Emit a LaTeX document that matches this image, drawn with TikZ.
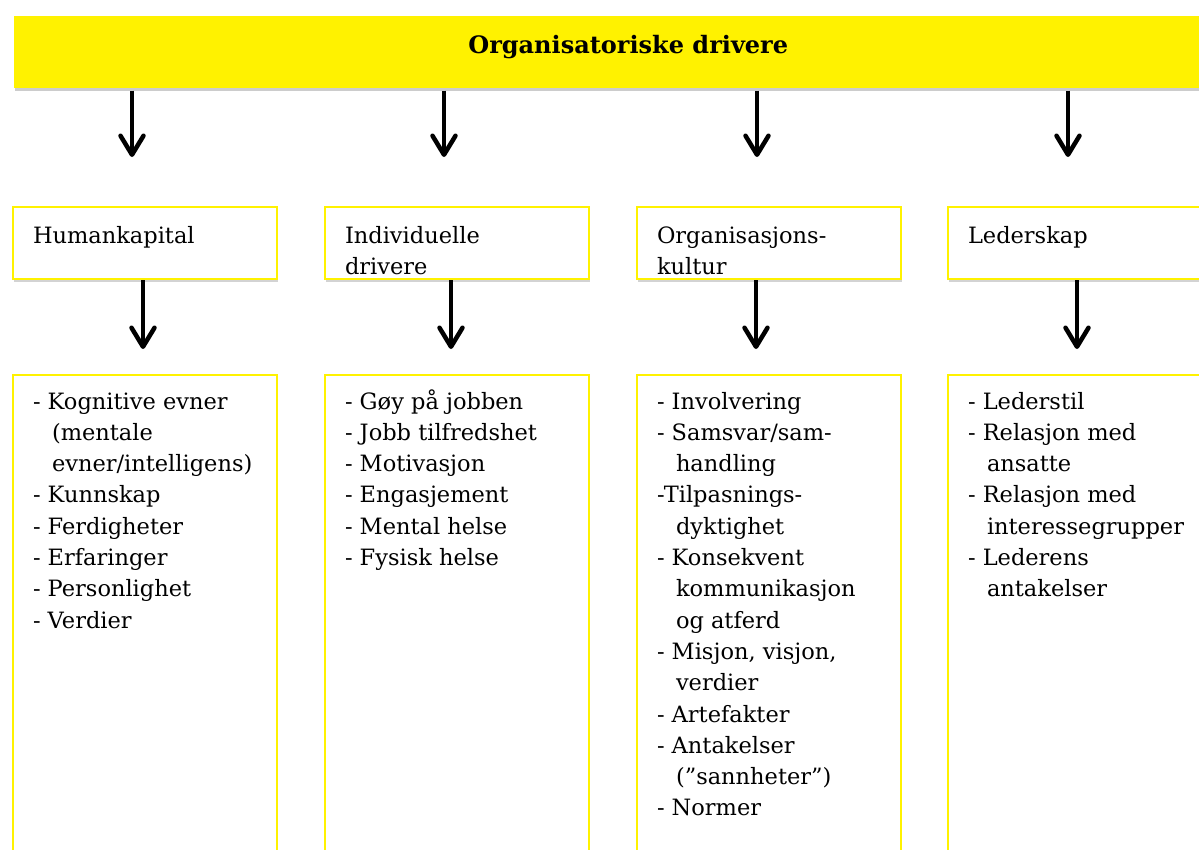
\documentclass[tikz,border=0pt]{standalone}
\usepackage{fontspec}
\setmainfont{DejaVu Serif}
\usetikzlibrary{arrows.meta,shadows}

% text block inside a box: height, hanging indent, text
\newcommand{\felt}[3]{%
  \begin{minipage}[t][#1][t]{224pt}\parskip=0pt\parindent=0pt
  \def\pkt{\par\hangindent=#2\hangafter=1\relax}%
  \rule{0pt}{24pt}\hangindent=#2\hangafter=1\relax #3\end{minipage}}

\begin{document}
\begin{tikzpicture}[x=1pt,y=-1pt,->,>={Straight Barb[length=19pt,width=23pt,round]},
                    line width=4.5pt]

  \tikzstyle{topp}=[rectangle,fill=yellow,anchor=north west,minimum width=1228pt,
                    minimum height=72pt,font=\fontsize{24}{28}\selectfont\bfseries,
                    text height=12pt,text depth=10pt,
                    drop shadow={opacity=0.4,shadow xshift=1pt,shadow yshift=-3pt}]
  \tikzstyle{driver}=[rectangle,draw=yellow,fill=white,line width=2pt,anchor=north west,
                      inner xsep=20pt,inner ysep=12pt,font=\fontsize{22.5}{31.3}\selectfont,
                      drop shadow={opacity=0.35,shadow xshift=1pt,shadow yshift=-3pt}]
  \tikzstyle{liste}=[driver,inner ysep=10pt]

  \useasboundingbox (0,0) rectangle (1199,849);
  \clip (0,0) rectangle (1199,849);

  \node[topp] (TOP) at (12,14) {Organisatoriske drivere};

  \node[driver] (HK) at (12,206)  {\felt{48pt}{0pt}{Humankapital}};
  \node[driver] (ID) at (324,206) {\felt{48pt}{0pt}{Individuelle\\drivere}};
  \node[driver] (OK) at (636,206) {\felt{48pt}{0pt}{Organisasjons-\\kultur}};
  \node[driver] (LS) at (947,206) {\felt{48pt}{0pt}{Lederskap}};

  \node[liste] (HKL) at (12,374) {\felt{500pt}{19pt}{- Kognitive evner\\(mentale\\evner/intelligens)
    \pkt - Kunnskap\pkt - Ferdigheter\pkt - Erfaringer\pkt - Personlighet\pkt - Verdier}};
  \node[liste] (IDL) at (324,374) {\felt{500pt}{19pt}{- Gøy på jobben\pkt - Jobb tilfredshet
    \pkt - Motivasjon\pkt - Engasjement\pkt - Mental helse\pkt - Fysisk helse}};
  \node[liste] (OKL) at (636,374) {\felt{500pt}{19pt}{- Involvering\pkt - Samsvar/sam-\\handling
    \pkt -Tilpasnings-\\dyktighet\pkt - Konsekvent\\kommunikasjon\\og atferd
    \pkt - Misjon, visjon,\\verdier\pkt - Artefakter\pkt - Antakelser\\(”sannheter”)\pkt - Normer}};
  \node[liste] (LSL) at (947,374) {\felt{500pt}{19pt}{- Lederstil\pkt - Relasjon med\\ansatte
    \pkt - Relasjon med\\interessegrupper\pkt - Lederens\\antakelser}};

  % arrow tips
  \coordinate (HK0) at (132,157);
  \coordinate (ID0) at (444,157);
  \coordinate (OK0) at (757,157);
  \coordinate (LS0) at (1068,157);
  \coordinate (HKL0) at (143,349);
  \coordinate (IDL0) at (451,349);
  \coordinate (OKL0) at (756,349);
  \coordinate (LSL0) at (1077,349);

  \path
  (TOP.south -| HK0) edge (HK0)
  (TOP.south -| ID0) edge (ID0)
  (TOP.south -| OK0) edge (OK0)
  (TOP.south -| LS0) edge (LS0)

  (HK.south -| HKL0) edge (HKL0)
  (ID.south -| IDL0) edge (IDL0)
  (OK.south -| OKL0) edge (OKL0)
  (LS.south -| LSL0) edge (LSL0)
  ;
\end{tikzpicture}
\end{document}
